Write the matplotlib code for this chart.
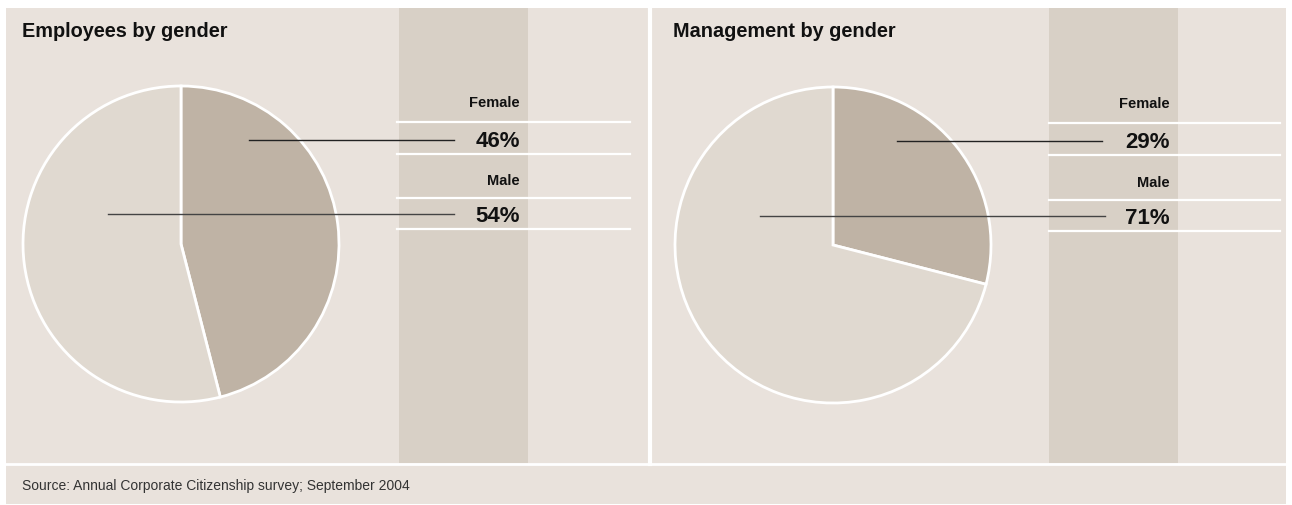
import matplotlib
matplotlib.use("Agg")
import matplotlib.pyplot as plt
from matplotlib.patches import Rectangle

titles = ["Employees by gender", "Management by gender"]
categories = ["Female", "Male"]
female_pct = [46, 29]
male_pct = [54, 71]
source = "Source: Annual Corporate Citizenship survey; September 2004"

BG = "#e9e2dc"
BAND = "#d8d0c6"
FEMALE_C = "#bfb3a5"
MALE_C = "#e0d9d0"
W, H = 1292, 506

plt.rcParams['font.family'] = ['Liberation Sans', 'DejaVu Sans']
fig = plt.figure(figsize=(W / 100, H / 100), dpi=100, facecolor="white")
bg = fig.add_axes([0, 0, 1, 1])
bg.set_xlim(0, W)
bg.set_ylim(H, 0)
bg.axis("off")

# background panels
bg.add_patch(Rectangle((6, 9), 1280, 496, facecolor=BG, edgecolor="none"))
bg.plot([649.5, 649.5], [9, 465], color="white", lw=3)
bg.plot([6, 1286], [465, 465], color="white", lw=2)

panels = [
    dict(band=(399, 528), lines=(397, 630), title_x=22, cx=181, cy=245, r=158,
         ly=[123, 155, 199, 230], fem_line=(249, 454), male_line=(108, 454), text_x=520),
    dict(band=(1049, 1178), lines=(1049, 1280), title_x=673, cx=833, cy=246, r=158,
         ly=[124, 156, 201, 232], fem_line=(897, 1102), male_line=(760, 1105), text_x=1170),
]

for i, p in enumerate(panels):
    b0, b1 = p["band"]
    bg.add_patch(Rectangle((b0, 9), b1 - b0, 455, facecolor=BAND, edgecolor="none"))
    for y in p["ly"]:
        bg.plot(list(p["lines"]), [y, y], color="white", lw=1.6)
    bg.text(p["title_x"], 31, titles[i], fontsize=14.3, fontweight="bold",
            va="center", ha="left", color="#111111")

    vals = [female_pct[i], male_pct[i]]
    cx, cy, r = p["cx"], p["cy"], p["r"]
    ax = fig.add_axes([(cx - r - 2) / W, 1 - (cy + r + 2) / H, (2 * r + 4) / W, (2 * r + 4) / H])
    ax.pie(vals, startangle=90, counterclock=False, colors=[FEMALE_C, MALE_C],
           radius=1.0, wedgeprops=dict(edgecolor="white", linewidth=2))
    ax.set_xlim(-1 - 2 / r, 1 + 2 / r)
    ax.set_ylim(-1 - 2 / r, 1 + 2 / r)
    ax.set_aspect("equal")
    ax.axis("off")

# overlay for leader lines and labels
ov = fig.add_axes([0, 0, 1, 1])
ov.set_xlim(0, W)
ov.set_ylim(H, 0)
ov.axis("off")
ov.patch.set_alpha(0)

for i, p in enumerate(panels):
    vals = [female_pct[i], male_pct[i]]
    fy = (p["ly"][0] + p["ly"][1]) / 2
    my = (p["ly"][2] + p["ly"][3]) / 2
    ov.text(p["text_x"], p["ly"][0] - 20, categories[0], fontsize=10.5, fontweight="bold",
            ha="right", va="center", color="#111111")
    ov.text(p["text_x"], p["ly"][2] - 18, categories[1], fontsize=10.5, fontweight="bold",
            ha="right", va="center", color="#111111")
    ov.text(p["text_x"], fy + 2, f"{vals[0]}%", fontsize=16, fontweight="bold",
            ha="right", va="center", color="#111111")
    ov.text(p["text_x"], my + 1.5, f"{vals[1]}%", fontsize=16, fontweight="bold",
            ha="right", va="center", color="#111111")
    ov.plot(list(p["fem_line"]), [fy + 1.5, fy + 1.5], color="#222222", lw=1.0)
    ov.plot(list(p["male_line"]), [my, my], color="#444444", lw=1.0)

ov.text(22, 486, source, fontsize=10, ha="left", va="center", color="#333333")

fig.savefig("out.png", dpi=100, facecolor="white")
